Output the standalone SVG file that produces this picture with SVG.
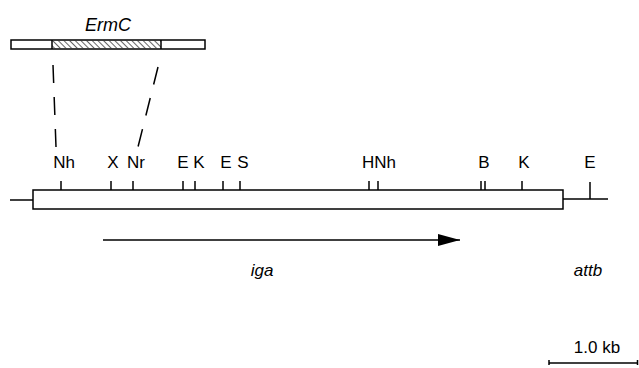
<svg xmlns="http://www.w3.org/2000/svg" width="639" height="368" viewBox="0 0 639 368">
<defs>
<pattern id="hatch" width="4" height="4" patternUnits="userSpaceOnUse" patternTransform="rotate(-45)">
<line x1="0" y1="0" x2="0" y2="4" stroke="#000" stroke-width="1.2"/>
</pattern>
<marker id="ah" markerWidth="23" markerHeight="12" refX="22" refY="6" orient="auto" markerUnits="userSpaceOnUse">
<path d="M0,0 L22,6 L0,12 Z" fill="#000"/>
</marker>
<style>
text{font-family:"Liberation Sans",Arial,sans-serif;font-size:17px;fill:#000}
.it{font-style:italic}
.ln{stroke:#000;stroke-width:1.5;fill:none}
.tk{stroke:#000;stroke-width:1.5}
</style>
</defs>
<g id="ermc">
<text class="it" x="108" y="31" text-anchor="middle" style="font-size:18px">ErmC</text>
<rect x="11" y="40" width="194" height="9" fill="#fff" stroke="#000" stroke-width="1.5"/>
<rect x="52" y="40.75" width="109" height="7.5" fill="url(#hatch)"/>
<line x1="52" y1="40" x2="52" y2="49" class="tk"/>
<line x1="161" y1="40" x2="161" y2="49" class="tk"/>
</g>
<g id="connectors">
<line x1="53" y1="65" x2="56" y2="147" class="ln" stroke-dasharray="18,14"/>
<line x1="158" y1="67" x2="138" y2="147" class="ln" stroke-dasharray="18,14"/>
<line x1="103" y1="240" x2="460" y2="240" class="ln" marker-end="url(#ah)"/>
</g>
<g id="map">
<line x1="10" y1="200" x2="33" y2="200" class="ln"/>
<rect x="33" y="190" width="530" height="19" fill="#fff" stroke="#000" stroke-width="1.5"/>
<line x1="563" y1="199" x2="608" y2="199" class="ln"/>
<line x1="590" y1="182" x2="590" y2="199" class="tk"/>
<g class="ticks">
<line x1="61" y1="181" x2="61" y2="190" class="tk"/>
<line x1="111" y1="181" x2="111" y2="190" class="tk"/>
<line x1="133" y1="181" x2="133" y2="190" class="tk"/>
<line x1="183" y1="181" x2="183" y2="190" class="tk"/>
<line x1="195" y1="181" x2="195" y2="190" class="tk"/>
<line x1="223" y1="181" x2="223" y2="190" class="tk"/>
<line x1="240" y1="181" x2="240" y2="190" class="tk"/>
<line x1="369" y1="181" x2="369" y2="190" class="tk"/>
<line x1="378" y1="181" x2="378" y2="190" class="tk"/>
<line x1="481" y1="181" x2="481" y2="190" class="tk"/>
<line x1="485" y1="181" x2="485" y2="190" class="tk"/>
<line x1="522" y1="181" x2="522" y2="190" class="tk"/>
</g>
<text x="64" y="168" text-anchor="middle">Nh</text>
<text x="113" y="168" text-anchor="middle">X</text>
<text x="136" y="168" text-anchor="middle">Nr</text>
<text x="183" y="168" text-anchor="middle">E</text>
<text x="199" y="168" text-anchor="middle">K</text>
<text x="226" y="168" text-anchor="middle">E</text>
<text x="243" y="168" text-anchor="middle">S</text>
<text x="379" y="168" text-anchor="middle">HNh</text>
<text x="484" y="168" text-anchor="middle">B</text>
<text x="524" y="168" text-anchor="middle">K</text>
<text x="590" y="168" text-anchor="middle">E</text>
</g>
<g id="labels">
<text class="it" x="262" y="276" text-anchor="middle">iga</text>
<text class="it" x="588" y="276" text-anchor="middle">attb</text>
</g>
<g id="scale">
<text x="597" y="353" text-anchor="middle">1.0 kb</text>
<line x1="549" y1="363" x2="638" y2="363" class="ln"/>
<line x1="549" y1="360" x2="549" y2="365" class="tk"/>
<line x1="637.5" y1="360" x2="637.5" y2="365" class="tk"/>
</g>
</svg>
